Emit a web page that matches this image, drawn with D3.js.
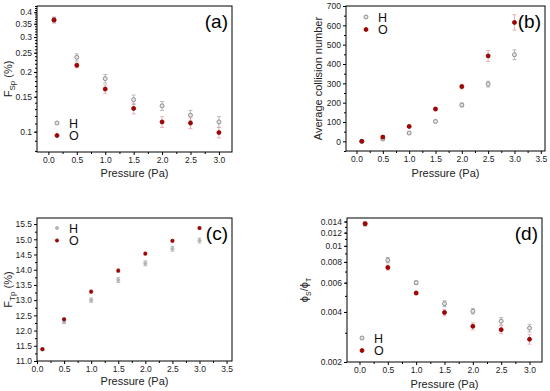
<!DOCTYPE html>
<html><head><meta charset="utf-8">
<script src="https://cdn.jsdelivr.net/npm/d3@7"></script>
<style>body{margin:0;background:#fff}svg{display:block}text{font-family:"Liberation Sans",Arial,sans-serif}</style>
</head><body>
<svg id="c" width="550" height="391"></svg>
<script>
const pressure = [0.1, 0.5, 1.0, 1.5, 2.0, 2.5, 3.0];
// (a) F_Sp (%)
const aH = [0.365, 0.237, 0.185, 0.145, 0.135, 0.121, 0.112];
const aHerr = [0.012, 0.010, 0.009, 0.008, 0.007, 0.007, 0.007];
const aO = [0.366, 0.216, 0.164, 0.131, 0.112, 0.1105, 0.099];
const aOerr = [0.012, 0.006, 0.008, 0.008, 0.007, 0.007, 0.006];
// (b) Average collision number
const bH = [0, 12, 43, 103, 188, 296, 448];
const bHerr = [2, 5, 6, 6, 10, 15, 25];
const bO = [0, 22, 77, 167, 283, 442, 615];
const bOerr = [3, 8, 6, 8, 12, 28, 40];
// (c) F_Tp (%)
const cH = [11.38, 12.29, 13.00, 13.66, 14.21, 14.69, 14.96];
const cHerr = [0.04, 0.06, 0.07, 0.08, 0.08, 0.08, 0.08];
const cO = [11.39, 12.37, 13.28, 13.97, 14.53, 14.95, 15.37];
const cOerr = [0.04, 0.05, 0.05, 0.06, 0.05, 0.04, 0.04];
// (d) phi_S/phi_T
const dH = [0.0136, 0.0082, 0.0060, 0.00449, 0.00404, 0.00352, 0.00320];
const dHerr = [0.0004, 0.0003, 0.00015, 0.00018, 0.00015, 0.00018, 0.00017];
const dO = [0.01356, 0.0074, 0.0052, 0.00397, 0.00328, 0.00313, 0.00274];
const dOerr = [0.0004, 0.00025, 0.00012, 0.00018, 0.00016, 0.00017, 0.00018];

const aYTicks = [0.1, 0.15, 0.2, 0.25, 0.3, 0.35, 0.4];
const dYTicks = [0.002, 0.004, 0.006, 0.008, 0.01, 0.012, 0.014];
const xTicks = [0, 0.5, 1.0, 1.5, 2.0, 2.5, 3.0];
const xTicks35 = [0, 0.5, 1.0, 1.5, 2.0, 2.5, 3.0, 3.5];

const svg = d3.select("#c");

function panel(o) {
  const g = svg.append("g");
  const x = d3.scaleLinear().domain(o.xd).range([o.l, o.r]);
  const y = (o.log ? d3.scaleLog() : d3.scaleLinear()).domain(o.yd).range([o.b, o.t]);
  g.append("rect").attr("x", o.l).attr("y", o.t).attr("width", o.r - o.l).attr("height", o.b - o.t)
    .attr("fill", "none").attr("stroke", "#000").attr("stroke-width", 1);
  const xa = g.append("g").attr("transform", `translate(0,${o.b})`)
    .call(d3.axisBottom(x).tickValues(o.xt).tickFormat(d3.format(".1f")).tickSize(3).tickPadding(2));
  xa.select(".domain").remove();
  xa.selectAll("text").attr("font-size", 8.5).attr("fill", "#222");
  g.append("g").attr("transform", `translate(0,${o.b})`)
    .call(d3.axisBottom(x).tickValues(o.xminor).tickFormat("").tickSize(2))
    .select(".domain").remove();
  const ya = g.append("g").attr("transform", `translate(${o.l},0)`)
    .call(d3.axisLeft(y).tickValues(o.yt).tickFormat(o.yfmt).tickSize(3).tickPadding(2));
  ya.select(".domain").remove();
  ya.selectAll("text").attr("font-size", 8.5).attr("fill", "#222");
  g.append("g").attr("transform", `translate(${o.l},0)`)
    .call(d3.axisLeft(y).tickValues(o.yminor).tickFormat("").tickSize(2))
    .select(".domain").remove();
  g.append("text").attr("x", (o.l + o.r) / 2).attr("y", o.xtitleY).attr("text-anchor", "middle")
    .attr("font-size", 11).attr("fill", "#222").text("Pressure (Pa)");
  const yt = g.append("text").attr("transform", `translate(${o.ytitleX},${(o.t + o.b) / 2}) rotate(-90)`)
    .attr("text-anchor", "middle").attr("font-size", 11).attr("fill", "#222");
  o.ytitle(yt);
  g.append("text").attr("x", o.r - 4).attr("y", o.t + 22).attr("text-anchor", "end")
    .attr("font-size", 19).attr("fill", "#000").text(o.label);
  const series = [
    {v: o.H, e: o.He, name: "H", fill: o.small ? "#b5b5b5" : "#e6e6e6", stroke: o.small ? "#b5b5b5" : "#777", ecol: "#aaa"},
    {v: o.O, e: o.Oe, name: "O", fill: "#b00000", stroke: "#7a0000", ecol: "#e8a0a0"}
  ];
  const r = o.small ? 1.6 : 2.0;
  series.forEach(s => {
    const sg = g.append("g");
    pressure.forEach((p, i) => {
      const cx = x(p), y1 = y(s.v[i] - s.e[i]), y2 = y(s.v[i] + s.e[i]);
      sg.append("line").attr("x1", cx).attr("x2", cx).attr("y1", y1).attr("y2", y2).attr("stroke", s.ecol).attr("stroke-width", 0.8);
      [y1, y2].forEach(yy => sg.append("line").attr("x1", cx - 2).attr("x2", cx + 2).attr("y1", yy).attr("y2", yy).attr("stroke", s.ecol).attr("stroke-width", 0.8));
    });
    sg.selectAll("circle").data(s.v).join("circle")
      .attr("cx", (d, i) => x(pressure[i])).attr("cy", d => y(d)).attr("r", r)
      .attr("fill", s.fill).attr("stroke", s.stroke).attr("stroke-width", 0.8);
  });
  series.forEach((s, i) => {
    const ly = o.legY + i * 12.5;
    g.append("circle").attr("cx", o.legX).attr("cy", ly).attr("r", r).attr("fill", s.fill).attr("stroke", s.stroke).attr("stroke-width", 0.8);
    g.append("text").attr("x", o.legX + 12).attr("y", ly + 4.5).attr("font-size", 12.5).attr("fill", "#111").text(s.name);
  });
}

function range(a, b, s) { const out = []; for (let v = a; v <= b + 1e-9; v += s) out.push(+v.toFixed(6)); return out; }

panel({l: 37, r: 232, t: 6, b: 152, xd: [-0.2, 3.23], yd: [0.079, 0.43], log: true,
  xt: xTicks, xminor: range(0.25, 3.0, 0.5), yt: aYTicks, yfmt: d => String(d), yminor: range(0.08, 0.43, 0.01),
  H: aH, He: aHerr, O: aO, Oe: aOerr, label: "(a)", legX: 57, legY: 123, xtitleY: 177, ytitleX: 12,
  ytitle: t => { t.append("tspan").text("F"); t.append("tspan").attr("font-size", 8).attr("dy", 3).text("Sp"); t.append("tspan").attr("dy", -3).text(" (%)"); }});

panel({l: 346, r: 545, t: 6, b: 151, xd: [-0.2, 3.58], yd: [-50, 700], log: false,
  xt: xTicks35, xminor: range(0.25, 3.25, 0.5), yt: range(0, 700, 100), yfmt: d3.format("d"), yminor: range(-50, 650, 100),
  H: bH, He: bHerr, O: bO, Oe: bOerr, label: "(b)", legX: 366, legY: 17, xtitleY: 177, ytitleX: 322,
  ytitle: t => t.text("Average collision number")});

panel({l: 37, r: 232, t: 218, b: 361, xd: [0, 3.6], yd: [11.0, 15.7], log: false, small: true,
  xt: xTicks35, xminor: range(0.25, 3.25, 0.5), yt: range(11, 15.5, 0.5), yfmt: d3.format(".1f"), yminor: range(11.25, 15.5, 0.5),
  H: cH, He: cHerr, O: cO, Oe: cOerr, label: "(c)", legX: 57, legY: 228, xtitleY: 385, ytitleX: 12,
  ytitle: t => { t.append("tspan").text("F"); t.append("tspan").attr("font-size", 8).attr("dy", 3).text("Tp"); t.append("tspan").attr("dy", -3).text(" (%)"); }});

panel({l: 347, r: 542, t: 218, b: 362, xd: [-0.22, 3.22], yd: [0.002, 0.0147], log: true,
  xt: xTicks, xminor: range(0.25, 3.0, 0.5), yt: dYTicks, yfmt: d => String(d), yminor: range(0.003, 0.014, 0.001),
  H: dH, He: dHerr, O: dO, Oe: dOerr, label: "(d)", legX: 362, legY: 338, xtitleY: 388, ytitleX: 308,
  ytitle: t => { t.append("tspan").text("ϕ"); t.append("tspan").attr("font-size", 7).attr("dy", 3).text("S"); t.append("tspan").attr("dy", -3).text("/ϕ"); t.append("tspan").attr("font-size", 7).attr("dy", 3).text("T"); }});
</script>
</body></html>
